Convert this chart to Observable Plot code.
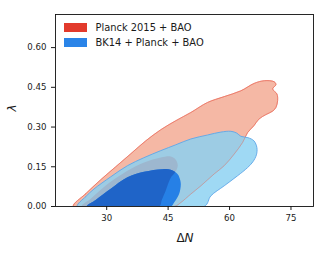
<!DOCTYPE html>
<html><head><meta charset="utf-8">
<script src="https://cdn.jsdelivr.net/npm/d3@7"></script>
<script src="https://cdn.jsdelivr.net/npm/@observablehq/plot@0.6"></script>
<style>
body{margin:0;background:#fff;}
#wrap{position:relative;width:327px;height:253px;font-family:"DejaVu Sans",sans-serif;color:#1a1a1a;}
.abs{position:absolute;white-space:nowrap;}
</style></head>
<body><div id="wrap"></div>
<script>
const xTicks = [30, 45, 60, 75];
const yTicks = [0, 0.15, 0.30, 0.45, 0.60];
const legendLabels = ["Planck 2015 + BAO", "BK14 + Planck + BAO"];
const yLabel = "λ";

// Planck 2015 + BAO, 95% contour
const red95X = [21.86,24.86,28.53,32.20,35.87,39.54,43.21,46.87,50.54,54.63,58.69,62.77,66.02,68.47,70.91,71.33,70.52,71.57,71.74,71.33,70.52,68.88,67.17,65.95,64.41,63.19,61.13,58.69,56.24,52.99,50.54,48.10,46.46];
const red95Y = [0,0.048,0.101,0.150,0.199,0.248,0.290,0.324,0.355,0.393,0.415,0.437,0.465,0.475,0.471,0.460,0.444,0.425,0.400,0.374,0.360,0.347,0.330,0.305,0.279,0.242,0.198,0.154,0.123,0.078,0.047,0.015,0];
// Planck 2015 + BAO, 68% contour
const red68X = [23.89,26.09,28.53,30.98,35.06,39.12,43.21,45.65,46.87,47.36,46.63,45.65,44.92,44.31,43.45,42.79];
const red68Y = [0,0.029,0.063,0.093,0.135,0.166,0.185,0.189,0.177,0.154,0.127,0.109,0.082,0.056,0.025,0];
// BK14 + Planck + BAO, 95% contour
const blue95X = [22.83,24.86,26.89,30.98,35.06,39.05,43.21,46.87,50.54,54.63,57.88,60.33,61.79,62.77,64.48,65.95,66.68,66.56,65.71,64.41,61.96,58.69,55.43,53.80];
const blue95Y = [0,0.037,0.066,0.112,0.154,0.184,0.211,0.233,0.255,0.270,0.281,0.284,0.277,0.265,0.260,0.248,0.222,0.195,0.169,0.147,0.116,0.078,0.040,0];
// BK14 + Planck + BAO, 68% contour
const blue68X = [25.11,27.31,30.98,35.06,39.12,43.62,45.65,47.29,47.8,48.10,47.68,46.46,45.65];
const blue68Y = [0,0.025,0.067,0.110,0.131,0.141,0.139,0.123,0.108,0.085,0.047,0.015,0];

const pts = (xs, ys) => xs.map((x, i) => ({x, y: ys[i]}));
const common = {x: "x", y: "y", curve: "catmull-rom-closed", clip: true};

const svg = Plot.plot({
  width: 327, height: 253,
  marginLeft: 55, marginRight: 14, marginTop: 14, marginBottom: 47,
  style: {fontFamily: "DejaVu Sans, sans-serif", fontSize: "8.6px", color: "#1a1a1a", background: "#fff"},
  x: {domain: [17.5, 80.5], ticks: xTicks, tickFormat: d => String(d), tickSize: 4, tickPadding: 4.5, label: null},
  y: {domain: [0, 0.725], ticks: yTicks, tickFormat: d => d.toFixed(2), tickSize: 4, tickPadding: 5, label: null},
  marks: [
    Plot.line(pts(red95X, red95Y), {...common, fill: "#f5b8a5", stroke: "#ec7563", strokeWidth: 0.8}),
    Plot.line(pts(red68X, red68Y), {...common, fill: "#f04632", stroke: "none"}),
    Plot.line(pts(blue95X, blue95Y), {...common, fill: "#8ad1f2", fillOpacity: 0.82, stroke: "none"}),
    Plot.line(pts(blue68X, blue68Y), {...common, fill: "#2680e6", stroke: "none"}),
    Plot.line(pts(red68X, red68Y), {...common, fill: "#1f64c8", stroke: "none"}),
    Plot.line(pts(red95X, red95Y), {...common, fill: "none", stroke: "#e8705e", strokeWidth: 0.8, strokeOpacity: 0.55}),
    Plot.line(pts(blue95X, blue95Y), {...common, fill: "none", stroke: "#5ea6e8", strokeWidth: 0.9}),
    Plot.frame({stroke: "#111", strokeWidth: 0.9})
  ]
});

// clip the dark overlap (68% ∩ 68%) to the BK14 68% region
const ns = "http://www.w3.org/2000/svg";
const lineGroups = svg.querySelectorAll('g[aria-label="line"]');
const bPath = lineGroups[3] && lineGroups[3].querySelector("path");
const dPath = lineGroups[4] && lineGroups[4].querySelector("path");
if (bPath && dPath) {
  const defs = document.createElementNS(ns, "defs");
  const cp = document.createElementNS(ns, "clipPath");
  cp.setAttribute("id", "b68clip");
  const p = document.createElementNS(ns, "path");
  p.setAttribute("d", bPath.getAttribute("d"));
  cp.appendChild(p);
  defs.appendChild(cp);
  svg.insertBefore(defs, svg.firstChild);
  dPath.setAttribute("clip-path", "url(#b68clip)");
}

const wrap = document.getElementById("wrap");
wrap.appendChild(svg);

// legend
const legendColors = ["#e23a2c", "#2a84e8"];
const rowTops = [23.3, 38.3];
legendLabels.forEach((lab, i) => {
  const patch = document.createElement("div");
  patch.className = "abs";
  Object.assign(patch.style, {left: "64px", top: rowTops[i] + "px", width: "23px", height: "8.5px", background: legendColors[i]});
  wrap.appendChild(patch);
  const t = document.createElement("div");
  t.className = "abs";
  Object.assign(t.style, {left: "95.5px", top: (rowTops[i] + 4.2) + "px", transform: "translateY(-50%)", fontSize: "9.9px", lineHeight: "1"});
  t.textContent = lab;
  wrap.appendChild(t);
});

// axis labels
const xl = document.createElement("div");
xl.className = "abs";
Object.assign(xl.style, {left: "185px", top: "238px", transform: "translate(-50%,-50%)", fontSize: "12px", lineHeight: "1"});
xl.innerHTML = "Δ<i>N</i>";
wrap.appendChild(xl);
const yl = document.createElement("div");
yl.className = "abs";
Object.assign(yl.style, {left: "12px", top: "108px", transform: "translate(-50%,-50%) rotate(-90deg)", fontSize: "12px", fontStyle: "italic", lineHeight: "1"});
yl.textContent = yLabel;
wrap.appendChild(yl);
</script>
</body></html>
